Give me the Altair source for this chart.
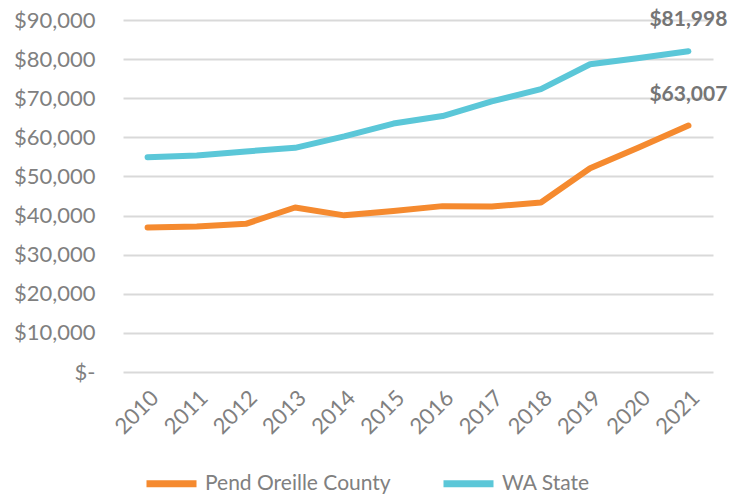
import altair as alt
import pandas as pd

years = ["2010", "2011", "2012", "2013", "2014", "2015", "2016", "2017", "2018", "2019", "2020", "2021"]
pend_oreille = [36950, 37200, 37880, 42060, 40050, 41150, 42410, 42330, 43320, 52110, 57490, 63007]
wa_state = [54920, 55380, 56390, 57320, 60250, 63520, 65440, 69210, 72310, 78680, 80270, 81998]
series_names = ["Pend Oreille County", "WA State"]
series_colors = ["#F58A2F", "#5BC7D8"]
end_labels = ["$63,007", "$81,998"]
y_ticks = [0, 10000, 20000, 30000, 40000, 50000, 60000, 70000, 80000, 90000]

rows = []
for y, v in zip(years, pend_oreille):
    rows.append({"year": y, "value": v, "series": series_names[0]})
for y, v in zip(years, wa_state):
    rows.append({"year": y, "value": v, "series": series_names[1]})
df = pd.DataFrame(rows)

last = pd.DataFrame({
    "year": [years[-1], years[-1]],
    "value": [pend_oreille[-1], wa_state[-1]],
    "series": series_names,
    "label": end_labels,
})

FONT = "Lato"
GREY = "#808080"

x = alt.X("year:O", title=None, sort=years,
          axis=alt.Axis(labelAngle=-45, labelFontSize=22, labelColor=GREY, labelFont=FONT,
                        ticks=False, domain=False, labelPadding=15, labelOverlap=False))
y = alt.Y("value:Q", title=None,
          scale=alt.Scale(domain=[0, 90000], nice=False),
          axis=alt.Axis(values=y_ticks, grid=True, gridColor="#D9D9D9",
                        gridWidth=2, ticks=False, domain=False, labelFontSize=22,
                        labelColor=GREY, labelFont=FONT, labelPadding=28, labelOverlap=False,
                        labelExpr="datum.value == 0 ? '$-' : '$' + format(datum.value, ',')"))

lines = alt.Chart(df).mark_line(strokeWidth=6, strokeCap="round", strokeJoin="round").encode(
    x=x, y=y,
    color=alt.Color("series:N", title=None,
                    scale=alt.Scale(domain=series_names, range=series_colors),
                    legend=alt.Legend(orient="none", legendX=20, legendY=435, direction="horizontal",
                                      symbolType="stroke", symbolSize=2500, symbolStrokeWidth=7,
                                      labelFontSize=21, labelFont=FONT, labelColor=GREY,
                                      labelLimit=400, columnPadding=38, labelOffset=5)),
)

labels = alt.Chart(last).mark_text(fontWeight="bold", fontSize=21, font=FONT, color="#757575",
                                   dy=-31, align="center").encode(
    x=x, y=y, text="label:N")

chart = alt.layer(lines, labels).properties(
    width=590, height=352,
    autosize=alt.AutoSizeParams(type="none"),
    padding={"left": 115, "top": 12, "right": 28, "bottom": 124},
).configure_view(stroke=None)

chart.save("out.html", embed_options={"renderer": "svg", "actions": False})
